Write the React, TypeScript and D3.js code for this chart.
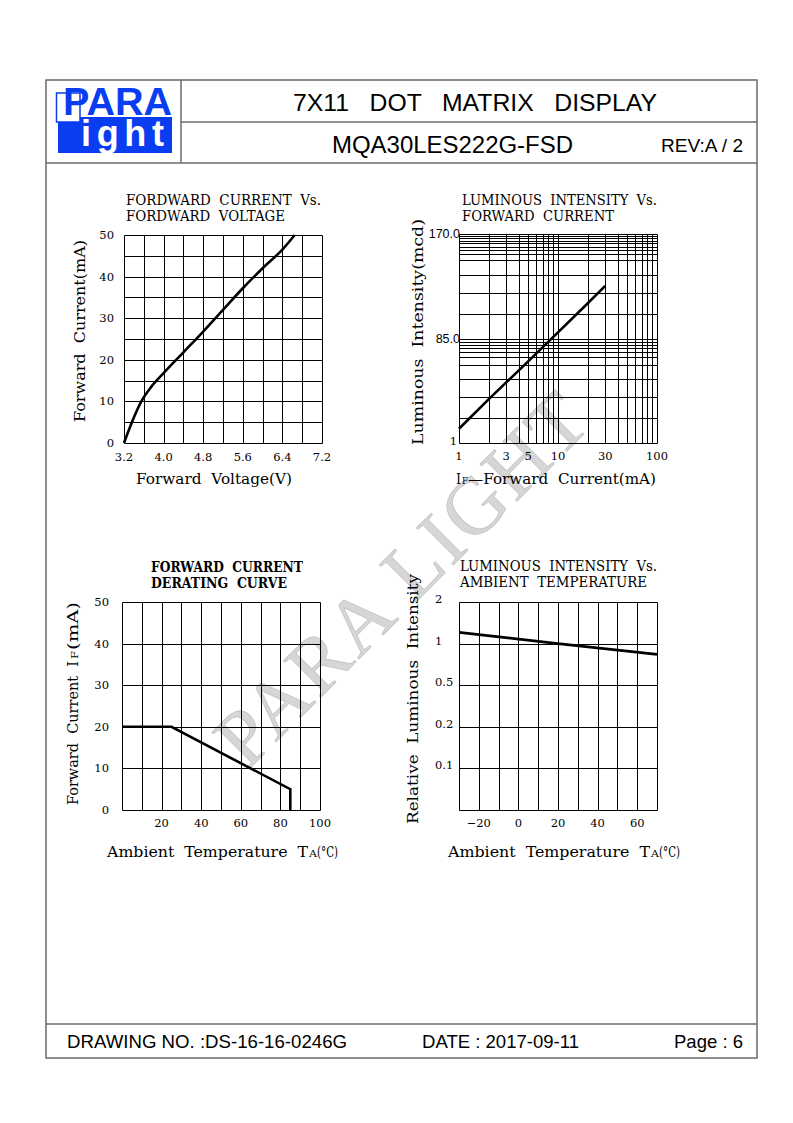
import React from 'react';
import * as d3 from 'd3';

const W = 793;
const H = 1123;

// ---------- Chart 1: Forward current vs forward voltage ----------
const vfTicks = [3.2, 4.0, 4.8, 5.6, 6.4, 7.2];
const ifTicks1 = [0, 10, 20, 30, 40, 50];
const vfValues = [3.2, 3.36, 3.55, 3.75, 4.0, 4.4, 4.8, 5.2, 5.6, 6.0, 6.4, 6.65];
const ifValues1 = [0, 5, 10, 13.5, 16.8, 21.8, 26.8, 32, 37.2, 42, 46.5, 50];

// ---------- Chart 2: Luminous intensity vs forward current ----------
const ifLogTicks = [1, 3, 5, 10, 30, 100];
const ivTicks = [1, 85, 170];
const ivTickLabels = ['1', '85.0', '170.0'];
const ivGridValues = [170, 168.4, 166.5, 164.6, 162.5, 159.8, 157.1, 153.9, 149.0, 136.9, 122.1, 105.1, 85,
  82.5, 80.4, 77.7, 74.5, 70.2, 63.7, 52.4, 38.1, 21.5, 1];
const ifCurrents = [1, 2, 3, 5, 10, 20, 30];
const ivValues = [12.5, 36.5, 50, 67, 90.5, 114, 128];

// ---------- Chart 3: Forward current derating curve ----------
const taTicks3 = [20, 40, 60, 80, 100];
const ifTicks3 = [0, 10, 20, 30, 40, 50];
const derTemp = [0, 25, 85, 85];
const derCurrent = [20, 20, 5, 0];

// ---------- Chart 4: Luminous intensity vs ambient temperature ----------
const taTicks4 = [-20, 0, 20, 40, 60];
const relLevels = [0.05, 0.1, 0.2, 0.5, 1, 2];
const relLabels = ['', '0.1', '0.2', '0.5', '1', '2'];
const relTemp = [-30, 20, 70];
const relValues = [1.27, 1.0, 0.87];

const DSERIF = "'DejaVu Serif', 'Liberation Serif', serif";
const SANS = "'Liberation Sans', Arial, sans-serif";
const TIMES = "'Liberation Serif', 'Times New Roman', serif";
const FRAME = '#6a6a6a';
const BLUE = '#0a3cf0';

const pre = { whiteSpace: 'pre' as const };
const snap = (v: number) => Math.round(v) + 0.5;

function GridLines({ xs, ys, sx, sy, x0, x1, y0, y1 }: any) {
  return (
    <g stroke="#000" strokeWidth={1}>
      {xs.map((v: number, i: number) => (
        <line key={'v' + i} x1={snap(sx(v))} x2={snap(sx(v))} y1={snap(y0)} y2={snap(y1)} />
      ))}
      {ys.map((v: number, i: number) => (
        <line key={'h' + i} x1={snap(x0)} x2={snap(x1)} y1={snap(sy(v))} y2={snap(sy(v))} />
      ))}
    </g>
  );
}

function T({ x, y, len, size = 14, children, bold = false, anchor = 'start', family = DSERIF }: any) {
  return (
    <text x={x} y={y} fontSize={size} fontFamily={family} fontWeight={bold ? 'bold' : 'normal'} textAnchor={anchor}
      textLength={len} lengthAdjust="spacingAndGlyphs" style={pre}>{children}</text>
  );
}

function VT({ x, y0, y1, size = 14, children }: any) {
  // rotated text reading bottom-to-top, from y0 (start) to y1 (end)
  return (
    <text transform={`translate(${x},${y0}) rotate(-90)`} fontSize={size} fontFamily={DSERIF}
      textLength={y0 - y1} lengthAdjust="spacingAndGlyphs" style={pre}>{children}</text>
  );
}

export default function App() {
  // chart 1
  const x1 = d3.scaleLinear().domain([3.2, 7.2]).range([124, 322]);
  const y1 = d3.scaleLinear().domain([0, 50]).range([443, 235]);
  const line1 = d3.line<[number, number]>().x(d => x1(d[0])).y(d => y1(d[1])).curve(d3.curveMonotoneX)(
    d3.zip(vfValues, ifValues1) as [number, number][]
  );
  const grid1x = d3.range(0, 11).map(i => 3.2 + i * 0.4);
  const grid1y = d3.range(0, 51, 5);

  // chart 2
  const x2 = d3.scaleLog().domain([1, 100]).range([459, 657]);
  const y2 = d3.scaleLinear().domain([1, 170]).range([443, 234]);
  const grid2x = d3.range(1, 10).concat(d3.range(10, 101, 10));
  const line2 = d3.line<[number, number]>().x(d => x2(d[0])).y(d => y2(d[1]))(
    d3.zip(ifCurrents, ivValues) as [number, number][]
  );

  // chart 3
  const x3 = d3.scaleLinear().domain([0, 100]).range([122, 320]);
  const y3 = d3.scaleLinear().domain([0, 50]).range([810, 602]);
  const line3 = d3.line<[number, number]>().x(d => x3(d[0])).y(d => y3(d[1]))(
    d3.zip(derTemp, derCurrent) as [number, number][]
  );

  // chart 4
  const x4 = d3.scaleLinear().domain([-30, 70]).range([459, 657]);
  const y4 = d3.scaleLinear().domain(relLevels).range(relLevels.map((_, i) => 810 - (i * 208) / (relLevels.length - 1)));
  const line4 = d3.line<[number, number]>().x(d => x4(d[0])).y(d => y4(d[1]))(
    d3.zip(relTemp, relValues) as [number, number][]
  );

  return (
    <svg width={W} height={H} style={{ position: 'absolute', left: 0, top: 0, background: '#fff' }}>
      <rect x={0} y={0} width={W} height={H} fill="#fff" />

      {/* watermark */}
      <text
        transform="translate(402,578) rotate(-45)"
        textAnchor="middle"
        dominantBaseline="central"
        fontFamily={TIMES}
        fontSize={80}
        letterSpacing={3}
        fill="#d6d6d6"
        stroke="#bcbcbc"
        strokeWidth={0.6}
      >
        PARA LIGHT
      </text>

      {/* frame */}
      <g stroke={FRAME} strokeWidth={1.5} fill="none">
        <rect x={46} y={80} width={711} height={978} />
        <line x1={181} x2={181} y1={80} y2={163} />
        <line x1={181} x2={757} y1={122} y2={122} />
        <line x1={46} x2={757} y1={163} y2={163} />
        <line x1={46} x2={757} y1={1024} y2={1024} />
      </g>

      {/* logo */}
      <rect x={58} y={117} width={114} height={36} fill={BLUE} />
      <rect x={56.5} y={93} width={23.5} height={29} fill="#fff" stroke={BLUE} strokeWidth={1.5} />
      <text x={63} y={114.5} fontFamily={SANS} fontWeight="bold" fontSize={38.5} fill={BLUE} textLength={109} lengthAdjust="spacingAndGlyphs">PARA</text>
      <text x={81} y={146} fontFamily={SANS} fontWeight="bold" fontSize={36} fill="#fff" textLength={83} lengthAdjust="spacing">ight</text>

      {/* header text */}
      <text x={293} y={111} fontFamily={SANS} fontSize={24} textLength={364} lengthAdjust="spacingAndGlyphs" style={pre}>7X11   DOT   MATRIX   DISPLAY</text>
      <text x={332} y={153} fontFamily={SANS} fontSize={23} textLength={241} lengthAdjust="spacingAndGlyphs">MQA30LES222G-FSD</text>
      <text x={661} y={152} fontFamily={SANS} fontSize={18} textLength={82} lengthAdjust="spacingAndGlyphs">REV:A / 2</text>

      {/* footer */}
      <text x={67} y={1048} fontFamily={SANS} fontSize={19} textLength={280} lengthAdjust="spacingAndGlyphs">DRAWING NO. :DS-16-16-0246G</text>
      <text x={422} y={1048} fontFamily={SANS} fontSize={19} textLength={157} lengthAdjust="spacingAndGlyphs">DATE : 2017-09-11</text>
      <text x={674} y={1048} fontFamily={SANS} fontSize={19} textLength={69} lengthAdjust="spacingAndGlyphs">Page : 6</text>

      {/* ===== Chart 1 ===== */}
      <g fill="#000">
        <T x={126} y={205} len={195}>FORDWARD  CURRENT  Vs.</T>
        <T x={126} y={221} len={159}>FORDWARD  VOLTAGE</T>
        <GridLines xs={grid1x} ys={grid1y} sx={x1} sy={y1} x0={124} x1={322} y0={235} y1={443} />
        <path d={line1 || ''} fill="none" stroke="#000" strokeWidth={2.6} />
        {ifTicks1.map(t => (
          <text key={t} x={114} y={y1(t) + 4} fontSize={11.5} fontFamily={DSERIF} textAnchor="end">{t}</text>
        ))}
        {vfTicks.map(t => (
          <text key={t} x={x1(t)} y={461} fontSize={11.5} fontFamily={DSERIF} textAnchor="middle">{t.toFixed(1)}</text>
        ))}
        <T x={136} y={484} len={156}>Forward  Voltage(V)</T>
        <VT x={85} y0={422} y1={240}>Forward  Current(mA)</VT>
      </g>

      {/* ===== Chart 2 ===== */}
      <g fill="#000">
        <T x={462} y={205} len={195}>LUMINOUS  INTENSITY  Vs.</T>
        <T x={462} y={221} len={152}>FORWARD  CURRENT</T>
        <GridLines xs={grid2x} ys={ivGridValues} sx={x2} sy={y2} x0={459} x1={657} y0={234} y1={443} />
        <path d={line2 || ''} fill="none" stroke="#000" strokeWidth={2.6} />
        {ivTicks.map((t, i) => (
          <text key={t} x={i === 0 ? 457 : 460} y={y2(t) + (i === 0 ? 2 : 4)} fontSize={i === 0 ? 11.5 : 12.5}
            fontFamily={i === 0 ? DSERIF : SANS} textAnchor="end">{ivTickLabels[i]}</text>
        ))}
        {ifLogTicks.map(t => (
          <text key={t} x={x2(t)} y={460} fontSize={11.5} fontFamily={DSERIF} textAnchor="middle">{t}</text>
        ))}
        <T x={456} y={484} len={5}>I</T>
        <T x={462} y={484} len={6} size={10}>F</T>
        <T x={468} y={484} len={188}>—Forward  Current(mA)</T>
        <VT x={423} y0={445} y1={219}>Luminous  Intensity(mcd)</VT>
      </g>

      {/* ===== Chart 3 ===== */}
      <g fill="#000">
        <T x={151} y={572} len={152} bold>FORWARD  CURRENT</T>
        <T x={151} y={588} len={136} bold>DERATING  CURVE</T>
        <GridLines xs={d3.range(0, 101, 10)} ys={ifTicks3} sx={x3} sy={y3} x0={122} x1={320} y0={602} y1={810} />
        <path d={line3 || ''} fill="none" stroke="#000" strokeWidth={2.6} strokeLinejoin="miter" />
        {ifTicks3.map(t => (
          <text key={t} x={109} y={y3(t) + 4} fontSize={11.5} fontFamily={DSERIF} textAnchor="end">{t}</text>
        ))}
        {taTicks3.map(t => (
          <text key={t} x={x3(t)} y={827} fontSize={11.5} fontFamily={DSERIF} textAnchor="middle">{t}</text>
        ))}
        <T x={107} y={857} len={201}>Ambient  Temperature  T</T>
        <T x={309} y={857} len={8} size={10}>A</T>
        <T x={317} y={857} len={21}>(°C)</T>
        <VT x={78} y0={805} y1={661}>Forward  Current  I</VT>
        <VT x={78} y0={659} y1={651} size={10}>F</VT>
        <VT x={78} y0={650} y1={602}>(mA)</VT>
      </g>

      {/* ===== Chart 4 ===== */}
      <g fill="#000">
        <T x={460} y={571} len={197}>LUMINOUS  INTENSITY  Vs.</T>
        <T x={460} y={587} len={187}>AMBIENT  TEMPERATURE</T>
        <GridLines xs={d3.range(-30, 71, 10)} ys={relLevels} sx={x4} sy={y4} x0={459} x1={657} y0={602} y1={810} />
        <path d={line4 || ''} fill="none" stroke="#000" strokeWidth={2.6} />
        {relLevels.map((t, i) => (
          <text key={t} x={435} y={y4(t) + 1} fontSize={11.5} fontFamily={DSERIF} textAnchor="start">{relLabels[i]}</text>
        ))}
        {taTicks4.map(t => (
          <text key={t} x={x4(t)} y={827} fontSize={11.5} fontFamily={DSERIF} textAnchor="middle">{t < 0 ? '−' + Math.abs(t) : t}</text>
        ))}
        <T x={448} y={857} len={202}>Ambient  Temperature  T</T>
        <T x={651} y={857} len={8} size={10}>A</T>
        <T x={659} y={857} len={21}>(°C)</T>
        <VT x={418} y0={824} y1={574}>Relative  Luminous  Intensity</VT>
      </g>
    </svg>
  );
}
